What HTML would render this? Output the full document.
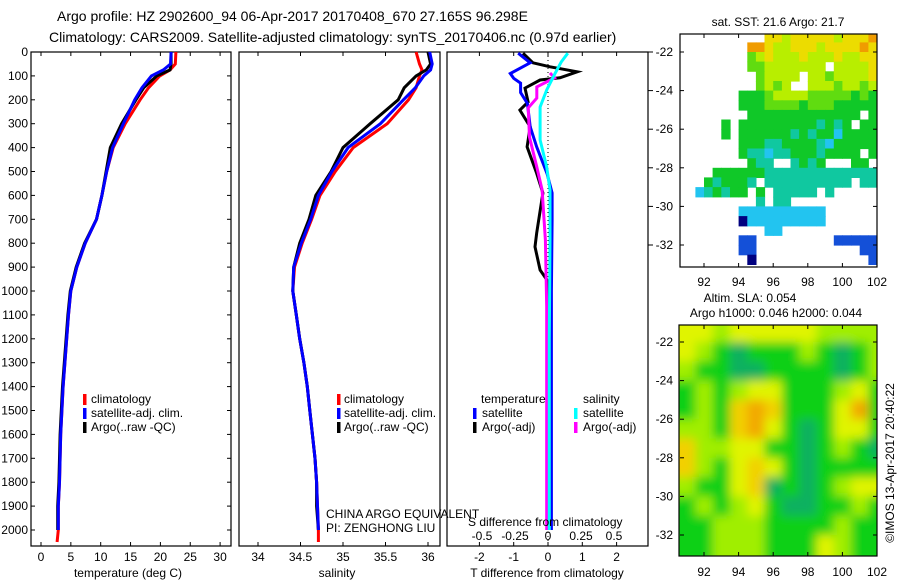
<!DOCTYPE html>
<html><head><meta charset="utf-8"><title>Argo profile</title>
<style>
html,body{margin:0;padding:0;background:#fff;}
svg{display:block;font-family:"Liberation Sans",sans-serif;}
text{fill:#000;}
</style></head>
<body>
<svg id="fig" width="900" height="580" viewBox="0 0 900 580" xmlns="http://www.w3.org/2000/svg">
<defs>
<filter id="soft" x="0" y="0" width="1" height="1"><feGaussianBlur stdDeviation="5"/></filter>
<clipPath id="clipSla"><rect x="679" y="325" width="198" height="231"/></clipPath>
<clipPath id="clipSst"><rect x="680" y="34" width="197" height="233"/></clipPath>
</defs>
<text x="57" y="21" font-size="14">Argo profile: HZ 2902600_94 06-Apr-2017 20170408_670 27.165S 96.298E</text>
<text x="49" y="42" font-size="14">Climatology: CARS2009. Satellite-adjusted climatology: synTS_20170406.nc (0.97d earlier)</text>
</svg>
<script>
// ---------- data ----------
const depth = [0,50,75,100,150,200,300,400,500,600,700,800,900,1000,1100,1200,1300,1400,1500,1600,1700,1800,1900,2000,2050];
const tempClim = [22.6,22.5,21.6,19.9,18.0,16.6,14.1,12.1,11.0,10.2,9.3,7.4,6.0,5.0,4.6,4.3,4.0,3.7,3.5,3.3,3.2,3.1,2.9,2.9,2.7];
const tempSat  = [21.8,21.7,20.5,18.5,16.9,15.7,13.8,12.0,11.0,10.2,9.3,7.4,6.0,5.0,4.6,4.3,4.0,3.7,3.5,3.3,3.2,3.1,2.9,2.9];
const tempArgo = [21.8,21.8,21.6,19.4,17.2,15.9,13.5,11.6,10.9,10.2,9.3,7.3,5.9,4.9,4.5,4.2,3.9,3.6,3.4,3.2,3.1,3.0,2.8,2.8];
const salClim = [35.86,35.9,35.93,35.9,35.86,35.77,35.52,35.12,34.91,34.73,34.63,34.52,34.43,34.41,34.45,34.49,34.54,34.58,34.61,34.64,34.67,34.69,34.70,34.71,34.71];
const salSat  = [36.02,36.05,36.03,35.95,35.85,35.71,35.44,35.06,34.87,34.71,34.62,34.51,34.42,34.41,34.45,34.49,34.54,34.58,34.61,34.64,34.67,34.69,34.70,34.71];
const salArgo = [36.0,36.03,35.98,35.86,35.72,35.65,35.32,35.0,34.86,34.68,34.6,34.49,34.42,34.41,34.45,34.49,34.54,34.58,34.61,34.64,34.67,34.69,34.69,34.71];
const dTsatDepth = [5,45,90,110,130,170,215,313,397,508,590,703,1000,1500,2000];
const dTsat = [-0.87,-0.52,-1.1,-1.0,-0.8,-0.8,-0.6,-0.52,-0.33,-0.03,0.12,0.12,0.1,0.1,0.1];
const dTargoDepth = [5,45,62,83,108,117,151,209,243,313,397,508,590,757,815,912,954,1200,1600,2000];
const dTargo = [-0.73,-0.44,0.06,0.85,0.35,-0.23,-0.67,-0.58,-0.82,-0.52,-0.61,-0.33,-0.15,-0.33,-0.38,-0.23,-0.03,0.05,0.05,0.0];
const dSsatDepth = [5,42,88,159,230,368,481,577,787,1200,2000];
const dSsat = [0.15,0.1,0.055,-0.01,-0.06,-0.06,-0.01,0.015,0.015,0.01,0.01];
const dSargoDepth = [88,108,146,193,234,356,481,577,787,1067,1500,2000];
const dSargo = [0.015,0.05,-0.085,-0.085,-0.15,-0.14,-0.085,-0.045,-0.02,-0.01,-0.01,-0.01];
const depthTicks = [0,100,200,300,400,500,600,700,800,900,1000,1100,1200,1300,1400,1500,1600,1700,1800,1900,2000];
const tempTicks = [0,5,10,15,20,25,30];
const salTicks = [34,34.5,35,35.5,36];
const dTTicks = [-2,-1,0,1,2];
const dSTicks = [-0.5,-0.25,0,0.25,0.5];
const lonTicks = [92,94,96,98,100,102];
const latTicks = [-22,-24,-26,-28,-30,-32];
// SST grid: 0.5 deg cells, lon 90.5..102, lat -21..-33 ('.' = no data)
const sstRows = [
"..........7767777767778",
"........887667776777787",
"........567666766676677",
"........556666666.66667",
".........56666.66566667",
".........5656..66656656",
".......4445666655555454",
".......4445555455544444",
"........4444444444444.4",
".....4.4444444443434.44",
".....4.4444443434424444",
".......4443344443244444",
".......43323344434444.4",
"........433..3434...44.",
"....4444443333333333333",
"...434443.3333333333.33",
"..234344.4.33333.3.....",
".........3.33..........",
".......2222222222......",
".......0222222222......",
"..........22...........",
".......11.........11111",
".......11............11",
"........0.............1"];
// SLA grid: 1 deg cells, lon 90.5..102.5, lat -21..-33
const slaRows = [
"443444443333",
"432122232123",
"322112222123",
"232344222342",
"232565222462",
"332564212442",
"533442212321",
"532454212222",
"322451212344",
"232342112232",
"223332222322",
"223332224322"];
const sstColors = ["#00007f","#1450d8","#22c4f0","#10c8a0","#10c828","#60dc10","#b8ee00","#ecdc00","#f09c00"];
const slaColors = ["#ffffff","#10b060","#10d018","#a0ee00","#e0f400","#f2d000","#f2a800"];

// ---------- scales ----------
const Y = d => 52 + d*0.239;
const XT = t => 41 + t*5.97;
const XS = s => 258 + (s-34)*85;
const XD = t => 548 + t*34.3;
const XDS = s => 548 + s*132;
const LON = l => 704 + (l-92)*17.3;
const LAT1 = l => 52 - (l+22)*19.3;
const LAT2 = l => 342 - (l+22)*19.3;

const svg = document.getElementById('fig');
const NS = 'http://www.w3.org/2000/svg';
function mk(tag, attrs, parent){
  const e = document.createElementNS(NS, tag);
  for (const k in attrs) e.setAttribute(k, attrs[k]);
  (parent||svg).appendChild(e);
  return e;
}
function txt(x,y,s,size,anchor,parent){
  const e = mk('text',{x:x,y:y,'font-size':size||12,'text-anchor':anchor||'start'},parent);
  e.textContent = s;
  return e;
}
function line(vals, deps, xf, color, w, name){
  const pts = vals.map((v,i)=> xf(v).toFixed(1)+','+Y(deps[i]).toFixed(1)).join(' ');
  const p = mk('polyline',{points:pts,fill:'none',stroke:color,'stroke-width':w||3,'stroke-linejoin':'miter'});
  
  
  return p;
}
function frame(x0,y0,x1,y1,name){
  const r = mk('rect',{x:x0,y:y0,width:x1-x0,height:y1-y0,fill:'none',stroke:'#000','stroke-width':1.2});
  
  
}
function legendTick(x,y,color){
  const r = mk('rect',{x:x,y:y-5,width:3.5,height:11,fill:color});
  
  
}

// ---------- panel 1: temperature ----------
const g1 = mk('g',{});


frame(31,52,231,546,'temperature-axes-frame');
depthTicks.forEach(d=>{
  const y = Y(d);
  mk('line',{x1:31,y1:y,x2:35,y2:y,stroke:'#000'},g1);
  mk('line',{x1:227,y1:y,x2:231,y2:y,stroke:'#000'},g1);
  const t = txt(28,y+4,String(d),12,'end',g1);
  
  
});
tempTicks.forEach(v=>{
  const x = XT(v);
  mk('line',{x1:x,y1:546,x2:x,y2:542,stroke:'#000'},g1);
  mk('line',{x1:x,y1:52,x2:x,y2:56,stroke:'#000'},g1);
  const t = txt(x,561,String(v),12,'middle',g1);
  
  
});
const xt1 = txt(128,577,'temperature (deg C)',12,'middle',g1);


line(tempClim, depth, XT, '#ff0000', 3, 'temperature-climatology-line');
line(tempArgo, depth, XT, '#000000', 3, 'temperature-argo-line');
line(tempSat, depth, XT, '#0000ff', 3, 'temperature-satellite-line');
[['climatology','#ff0000'],['satellite-adj. clim.','#0000ff'],['Argo(..raw -QC)','#000']].forEach((e,i)=>{
  const y = 399 + i*14;
  legendTick(83,y,e[1]);
  const t = txt(91,y+4,e[0],12,'start');
  
  
});

// ---------- panel 2: salinity ----------
frame(239,52,440,546,'salinity-axes-frame');
salTicks.forEach(v=>{
  const x = XS(v);
  mk('line',{x1:x,y1:546,x2:x,y2:542,stroke:'#000'});
  mk('line',{x1:x,y1:52,x2:x,y2:56,stroke:'#000'});
  const t = txt(x,561,String(v),12,'middle');
  
  
});
const xt2 = txt(337,577,'salinity',12,'middle');


line(salClim, depth, XS, '#ff0000', 3, 'salinity-climatology-line');
line(salArgo, depth, XS, '#000000', 3, 'salinity-argo-line');
line(salSat, depth, XS, '#0000ff', 3, 'salinity-satellite-line');
[['climatology','#ff0000'],['satellite-adj. clim.','#0000ff'],['Argo(..raw -QC)','#000']].forEach((e,i)=>{
  const y = 399 + i*14;
  legendTick(337,y,e[1]);
  const t = txt(344,y+4,e[0],12,'start');
  
  
});
const pi1 = txt(326,518,'CHINA ARGO EQUIVALENT',12,'start');


const pi2 = txt(326,532,'PI: ZENGHONG LIU',12,'start');



// ---------- panel 3: differences ----------
frame(447,52,648,546,'difference-axes-frame');
const zl = mk('line',{x1:XD(0),y1:52,x2:XD(0),y2:546,stroke:'#000','stroke-dasharray':'1,3'});


dTTicks.forEach(v=>{
  const x = XD(v);
  mk('line',{x1:x,y1:546,x2:x,y2:542,stroke:'#000'});
  mk('line',{x1:x,y1:52,x2:x,y2:56,stroke:'#000'});
  const t = txt(x,561,String(v),12,'middle');
  
  
});
latTicks.forEach(l=>{ mk('line',{x1:648,y1:LAT1(l),x2:653,y2:LAT1(l),stroke:'#000'}); });
line(dTargo, dTargoDepth, XD, '#000000', 3, 't-difference-argo-line');
line(dTsat, dTsatDepth, XD, '#0000ff', 3, 't-difference-satellite-line');
line(dSargo, dSargoDepth, XDS, '#ff00ff', 3, 's-difference-argo-line');
line(dSsat, dSsatDepth, XDS, '#00ffff', 3, 's-difference-satellite-line');
const st = txt(468,526,'S difference from climatology',12,'start');


dSTicks.forEach(v=>{
  const t = txt(XDS(v),540,String(v),12,'middle');
  
  
});
const xt3 = txt(547,577,'T difference from climatology',12,'middle');


const lh1 = txt(481,403,'temperature',12,'start');


const lh2 = txt(583,403,'salinity',12,'start');


[['satellite','#0000ff',473,482,413],['Argo(-adj)','#000',473,482,427],['satellite','#00ffff',574,583,413],['Argo(-adj)','#ff00ff',574,583,427]].forEach(e=>{
  legendTick(e[2],e[4],e[1]);
  const t = txt(e[3],e[4]+4,e[0],12,'start');
  
  
});

// ---------- SST map ----------
const gs = mk('g',{'clip-path':'url(#clipSst)'});


sstRows.forEach((row,j)=>{
  for (let i=0;i<23;i++){
    const c = row[i];
    if (!c || c==='.') continue;
    const lon0 = 90.5+0.5*i, lat0 = -21-0.5*j;
    const x0 = LON(lon0), x1 = LON(lon0+0.5), y0 = LAT1(lat0), y1 = LAT1(lat0-0.5);
    const r = mk('rect',{x:x0.toFixed(1),y:y0.toFixed(1),width:(x1-x0+0.6).toFixed(1),height:(y1-y0+0.6).toFixed(1),fill:sstColors[+c]},gs);
    
    
  }
});
frame(680,34,877,267,'sst-map-frame');
const sstT = txt(778,26,'sat. SST: 21.6 Argo: 21.7',12,'middle');



// ---------- SLA map ----------
const ga = mk('g',{'clip-path':'url(#clipSla)'});


const gb = mk('g',{filter:'url(#soft)'},ga);
slaRows.forEach((row,j)=>{
  for (let i=0;i<12;i++){
    const c = row[i];
    const lon0 = 90.5+i, lat0 = -21-j;
    const x0 = LON(lon0)-(i===0?10:0), x1 = LON(lon0+1)+(i===11?10:0);
    const y0 = LAT2(lat0)-(j===0?10:0), y1 = LAT2(lat0-1)+(j===11?10:0);
    const r = mk('rect',{x:x0.toFixed(1),y:y0.toFixed(1),width:(x1-x0+0.6).toFixed(1),height:(y1-y0+0.6).toFixed(1),fill:slaColors[+c]},gb);
    
    
  }
});
frame(679,325,877,556,'sla-map-frame');
const a1 = txt(750,302,'Altim. SLA: 0.054',12,'middle');


const a2 = txt(776,317,'Argo h1000: 0.046 h2000: 0.044',12,'middle');



// map ticks
[[LAT1,34,267,286],[LAT2,325,556,576]].forEach(m=>{
  const lf = m[0];
  lonTicks.forEach(l=>{
    const x = LON(l);
    mk('line',{x1:x,y1:m[2],x2:x,y2:m[2]-4,stroke:'#000'});
    mk('line',{x1:x,y1:m[1],x2:x,y2:m[1]+4,stroke:'#000'});
    const t = txt(x,m[3],String(l),12,'middle');
    
    
  });
  latTicks.forEach(l=>{
    const y = lf(l);
    mk('line',{x1:680,y1:y,x2:684,y2:y,stroke:'#000'});
    mk('line',{x1:877,y1:y,x2:873,y2:y,stroke:'#000'});
    const t = txt(673,y+4,String(l),12,'end');
    
    
  });
});
const cr = txt(0,0,'\u00A9IMOS 13-Apr-2017 20:40:22',12,'middle');
cr.setAttribute('transform','translate(894,463) rotate(-90)');


</script>
</body></html>
